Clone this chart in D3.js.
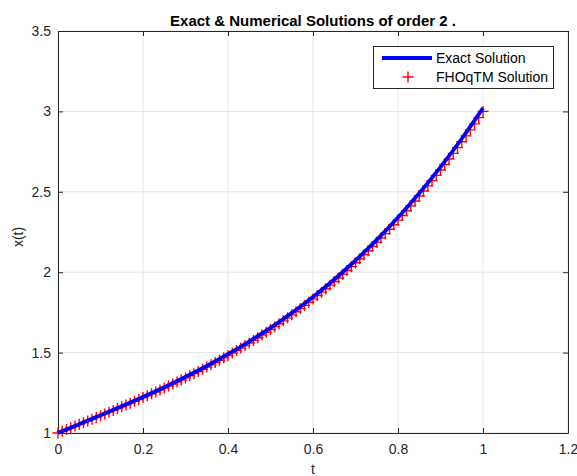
<!DOCTYPE html>
<html>
<head>
<meta charset="utf-8">
<script src="https://cdn.jsdelivr.net/npm/d3@7"></script>
<style>
    body { margin: 0; background: #fff; }
    svg text { font-family: "Liberation Sans", Arial, Helvetica, sans-serif; fill: #262626; }
</style>
</head>
<body>
<div id="solutionPlot"></div>
<script>

// exact solution, sampled every 0.05
var exactT = [0, 0.05, 0.1, 0.15, 0.2, 0.25, 0.3, 0.35, 0.4, 0.45, 0.5,
    0.55, 0.6, 0.65, 0.7, 0.75, 0.8, 0.85, 0.9, 0.95, 1];
var exactX = [1.000, 1.0547, 1.1098, 1.1659, 1.224, 1.2847, 1.3488, 1.4169, 1.490, 1.5687, 1.6538,
    1.7459, 1.846, 1.9547, 2.0728, 2.2009, 2.340, 2.4907, 2.6538, 2.8299, 3.020];

// numerical (FHOqTM) solution, one point every 0.01
var numT = d3.range(0, 101).map(function (i) { return i / 100; });
var numX = [1.0000, 1.0107, 1.0215, 1.0322, 1.0429, 1.0537, 1.0644, 1.0752, 1.0860, 1.0969,
    1.1078, 1.1187, 1.1296, 1.1407, 1.1518, 1.1629, 1.1742, 1.1855, 1.1969, 1.2084,
    1.2200, 1.2317, 1.2435, 1.2554, 1.2675, 1.2797, 1.2920, 1.3045, 1.3171, 1.3298,
    1.3428, 1.3558, 1.3691, 1.3825, 1.3961, 1.4099, 1.4239, 1.4381, 1.4525, 1.4672,
    1.4820, 1.4971, 1.5124, 1.5279, 1.5437, 1.5597, 1.5760, 1.5925, 1.6093, 1.6264,
    1.6438, 1.6614, 1.6793, 1.6976, 1.7161, 1.7349, 1.7541, 1.7736, 1.7934, 1.8135,
    1.8340, 1.8548, 1.8760, 1.8975, 1.9194, 1.9417, 1.9643, 1.9873, 2.0108, 2.0346,
    2.0588, 2.0834, 2.1084, 2.1338, 2.1597, 2.1859, 2.2127, 2.2398, 2.2674, 2.2955,
    2.3240, 2.3530, 2.3824, 2.4124, 2.4428, 2.4737, 2.5051, 2.5370, 2.5694, 2.6023,
    2.6358, 2.6697, 2.7042, 2.7392, 2.7748, 2.8109, 2.8476, 2.8849, 2.9227, 2.9610,
    3.0000];

var xTicks = [0, 0.2, 0.4, 0.6, 0.8, 1, 1.2];
var yTicks = [1, 1.5, 2, 2.5, 3, 3.5];
var legendLabels = ["Exact Solution", "FHOqTM Solution"];
var titleText = "Exact & Numerical Solutions of order 2 .";


function SolutionPlot(id) {
    var self = this;
    self.sectionId = id;
    self.initVis();
}

SolutionPlot.prototype.initVis = function () {
    var self = this;

    self.svgWidth = 577;
    self.svgHeight = 476;
    self.margin = { top: 31, right: 9, bottom: 43, left: 58 };
    self.width = self.svgWidth - self.margin.left - self.margin.right;
    self.height = self.svgHeight - self.margin.top - self.margin.bottom;

    self.svg = d3.select(`#${self.sectionId}`)
        .append("svg")
        .attr("width", self.svgWidth)
        .attr("height", self.svgHeight);

    var g = self.svg.append("g")
        .attr("transform", `translate(${self.margin.left},${self.margin.top})`);

    self.x = d3.scaleLinear().domain([0, 1.2]).range([0, self.width]);
    self.y = d3.scaleLinear().domain([1, 3.5]).range([self.height, 0]);

    // grid lines first so everything sits on top
    g.selectAll(".vgrid")
        .data(xTicks)
        .enter()
        .append("line")
        .attr("class", "vgrid")
        .attr("x1", d => self.x(d)).attr("x2", d => self.x(d))
        .attr("y1", 0).attr("y2", self.height)
        .attr("stroke", "#e6e6e6");
    g.selectAll(".hgrid")
        .data(yTicks)
        .enter()
        .append("line")
        .attr("class", "hgrid")
        .attr("y1", d => self.y(d)).attr("y2", d => self.y(d))
        .attr("x1", 0).attr("x2", self.width)
        .attr("stroke", "#e6e6e6");

    // axes, matlab style: ticks inside, box on all four sides
    var tickLen = 5;
    var bottomAxis = g.append("g")
        .attr("transform", `translate(0,${self.height})`)
        .call(d3.axisBottom(self.x).tickValues(xTicks).tickFormat(d3.format("~g"))
            .tickSizeInner(-tickLen).tickSizeOuter(0).tickPadding(11));
    var topAxis = g.append("g")
        .call(d3.axisTop(self.x).tickValues(xTicks).tickFormat("")
            .tickSizeInner(-tickLen).tickSizeOuter(0));
    var leftAxis = g.append("g")
        .call(d3.axisLeft(self.y).tickValues(yTicks).tickFormat(d3.format("~g"))
            .tickSizeInner(-tickLen).tickSizeOuter(0).tickPadding(7));
    var rightAxis = g.append("g")
        .attr("transform", `translate(${self.width},0)`)
        .call(d3.axisRight(self.y).tickValues(yTicks).tickFormat("")
            .tickSizeInner(-tickLen).tickSizeOuter(0));

    [bottomAxis, topAxis, leftAxis, rightAxis].forEach(function (ax) {
        ax.select(".domain").attr("stroke", "#262626");
        ax.selectAll(".tick line").attr("stroke", "#262626");
        ax.selectAll(".tick text")
            .attr("fill", "#262626")
            .style("font-size", "14px")
            .style("font-family", "'Liberation Sans', Arial, sans-serif");
    });

    // numerical solution markers
    var plusSize = 5.5;
    var numData = numT.map((t, i) => ({ t: t, x: numX[i] }));
    g.selectAll(".numPoint")
        .data(numData)
        .enter()
        .append("path")
        .attr("class", "numPoint")
        .attr("d", `M${-plusSize},0H${plusSize}M0,${-plusSize}V${plusSize}`)
        .attr("transform", d => `translate(${self.x(d.t)},${self.y(d.x)})`)
        .attr("stroke", "#ff0000")
        .attr("stroke-width", 1.4)
        .attr("fill", "none");

    // exact solution line
    var exactData = exactT.map((t, i) => ({ t: t, x: exactX[i] }));
    var line = d3.line()
        .x(d => self.x(d.t))
        .y(d => self.y(d.x))
        .curve(d3.curveMonotoneX);
    g.append("path")
        .datum(exactData)
        .attr("d", line)
        .attr("fill", "none")
        .attr("stroke", "#0000ff")
        .attr("stroke-width", 3.8);

    // title and axis labels
    self.svg.append("text")
        .attr("x", self.margin.left + self.width / 2)
        .attr("y", 26)
        .style("text-anchor", "middle")
        .style("font-size", "15px")
        .style("font-weight", "bold")
        .style("fill", "#000")
        .text(titleText);

    self.svg.append("text")
        .attr("x", self.margin.left + self.width / 2)
        .attr("y", 474)
        .style("text-anchor", "middle")
        .style("font-size", "14px")
        .text("t");

    self.svg.append("text")
        .attr("transform", "translate(23,237) rotate(-90)")
        .style("text-anchor", "middle")
        .style("font-size", "14px")
        .text("x(t)");

    // legend box
    var legend = self.svg.append("g").attr("class", "legend");
    legend.append("rect")
        .attr("x", 373.5).attr("y", 46.5)
        .attr("width", 180).attr("height", 42)
        .attr("fill", "#fff")
        .attr("stroke", "#262626")
        .attr("stroke-width", 1);
    legend.append("line")
        .attr("x1", 382).attr("x2", 432)
        .attr("y1", 58).attr("y2", 58)
        .attr("stroke", "#0000ff")
        .attr("stroke-width", 3.8);
    legend.append("path")
        .attr("d", `M${408 - plusSize},77H${408 + plusSize}M408,${77 - plusSize}V${77 + plusSize}`)
        .attr("stroke", "#ff0000")
        .attr("stroke-width", 1.4);
    legend.selectAll(".legendText")
        .data(legendLabels)
        .enter()
        .append("text")
        .attr("class", "legendText")
        .attr("x", 436)
        .attr("y", (d, i) => 63 + i * 19)
        .style("font-size", "14px")
        .style("fill", "#000")
        .text(d => d);
};

var plot = new SolutionPlot("solutionPlot");
</script>
</body>
</html>
